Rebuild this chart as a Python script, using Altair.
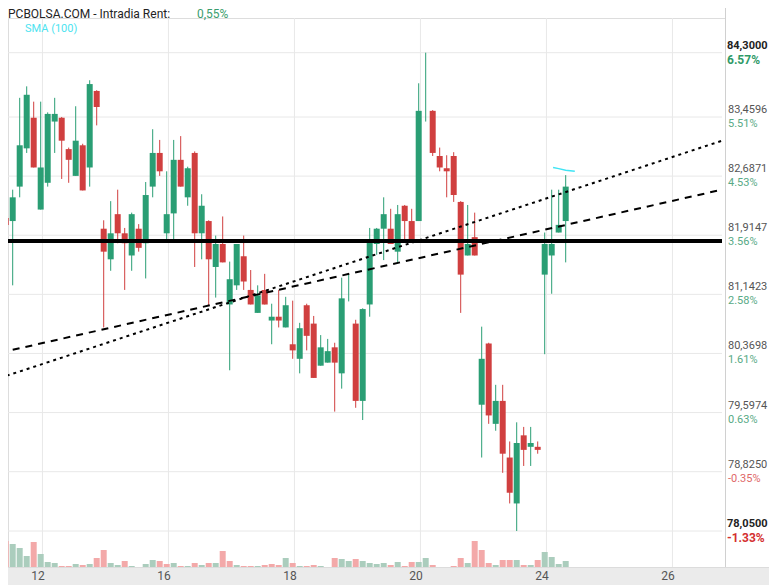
import altair as alt
import pandas as pd

# ---------------- data ----------------
opens = [82.20, 82.14, 82.10, 82.55, 83.05, 83.45, 82.25, 82.60, 83.40, 83.45,
         83.04, 82.69, 83.09, 82.80, 83.80, 82.00, 81.60, 82.19, 81.94, 81.65,
         82.00, 81.81, 82.55, 82.99, 81.94, 82.20, 82.90, 82.41, 82.99, 81.94,
         82.10, 81.50, 81.80, 81.01, 81.26, 81.64, 81.20, 80.90, 81.20, 80.80,
         80.85, 80.71, 80.49, 80.30, 81.00, 80.76, 80.21, 80.25, 80.45, 80.11,
         81.21, 80.76, 79.75, 81.01, 81.80, 82.00, 82.00, 81.70, 82.30, 82.10,
         82.10, 83.52, 83.54, 82.95, 82.79, 82.95, 82.35, 81.65, 81.89, 79.70,
         80.50, 79.45, 79.75, 79.01, 78.41, 79.30, 79.15, 79.15, 81.40, 81.65,
         81.95, 82.10]
closes = [82.35, 82.05, 82.41, 83.09, 83.75, 82.80, 82.80, 83.50, 83.50, 83.15,
          82.90, 83.15, 82.50, 83.89, 83.59, 81.70, 81.94, 81.94, 81.81, 82.19,
          81.75, 82.44, 82.99, 82.75, 82.19, 82.90, 82.55, 82.79, 81.94, 82.30,
          81.60, 81.80, 81.56, 81.34, 81.80, 81.31, 81.01, 81.13, 81.01, 80.85,
          80.80, 81.00, 80.41, 80.70, 80.60, 80.05, 80.45, 80.40, 80.25, 81.09,
          81.21, 79.75, 80.95, 81.82, 82.00, 82.19, 81.80, 82.19, 82.10, 81.86,
          83.54, 83.52, 82.99, 82.80, 82.75, 82.44, 81.40, 81.80, 81.65, 80.30,
          79.56, 79.75, 79.06, 78.55, 79.20, 79.11, 79.20, 79.11, 81.80, 81.80,
          82.05, 82.55]
highs = [82.40, 83.01, 82.51, 83.71, 83.86, 83.66, 83.66, 83.52, 83.71, 83.46,
         83.06, 83.60, 83.11, 83.94, 83.81, 82.11, 82.36, 82.51, 82.01, 82.21,
         82.06, 82.61, 83.30, 83.16, 82.75, 83.16, 83.21, 82.81, 83.01, 82.45,
         82.11, 81.91, 82.16, 81.57, 81.80, 81.91, 81.46, 81.26, 81.41, 81.02,
         81.20, 81.11, 81.06, 80.77, 81.02, 80.86, 80.61, 80.56, 80.51, 81.36,
         81.41, 80.81, 80.96, 82.01, 82.01, 82.41, 82.26, 82.31, 82.31, 82.26,
         83.90, 84.30, 83.55, 83.06, 82.96, 83.00, 82.36, 82.31, 82.21, 80.72,
         80.51, 79.96, 79.96, 79.22, 79.47, 79.41, 79.41, 79.22, 81.95, 82.51,
         82.51, 82.70]
lows = [82.17, 81.70, 81.26, 82.41, 82.99, 82.80, 82.25, 82.55, 82.99, 82.65,
        82.60, 82.69, 82.50, 82.55, 83.35, 80.71, 81.45, 81.81, 81.20, 81.45,
        81.70, 81.35, 82.41, 82.69, 81.85, 81.86, 82.55, 82.30, 81.50, 81.60,
        80.99, 81.10, 81.56, 80.15, 81.20, 81.20, 81.01, 80.90, 81.01, 80.49,
        80.71, 80.71, 80.30, 80.11, 80.41, 80.05, 80.21, 80.25, 79.61, 79.91,
        81.05, 79.66, 79.50, 80.85, 81.66, 81.59, 81.80, 81.56, 81.86, 81.86,
        82.10, 83.40, 82.95, 82.75, 82.41, 82.35, 80.90, 81.65, 81.65, 79.01,
        79.45, 79.36, 78.81, 78.41, 78.05, 78.90, 78.90, 79.06, 80.36, 81.15,
        81.95, 81.56]
volumes = [51, 26, 23, 19, 11, 25, 13, 5, 4, 1,
           1, 3, 2, 3, 9, 17, 4, 2, 6, 1,
           0, 3, 7, 6, 3, 4, 1, 1, 4, 2,
           4, 4, 16, 6, 2, 1, 1, 1, 2, 3,
           2, 9, 4, 1, 1, 2, 1, 0, 9, 8,
           6, 8, 6, 4, 3, 4, 2, 5, 1, 5,
           5, 9, 2, 0, 0, 1, 9, 4, 26, 17,
           4, 2, 7, 7, 7, 2, 2, 7, 15, 10,
           3, 6]
vol_dir = list("dduuuduuud" "dududduudu" "uuuddududu" "dudduddudd" "dududduudu"
               "uduuuududd" "uudddddudd" "duddududuu" "uu")

tick_vals = [84.30, 83.4596, 82.6871, 81.9147, 81.1423, 80.3698, 79.5974, 78.8250, 78.05]
tick_labels = ["84,3000", "83,4596", "82,6871", "81,9147", "81,1423",
               "80,3698", "79,5974", "78,8250", "78,0500"]
pct_labels = ["6.57%", "5.51%", "4.53%", "3.56%", "2.58%", "1.61%", "0.63%", "-0.35%", "-1.33%"]

day_labels = ["12", "16", "18", "20", "24", "26"]
day_start = [6, 24, 42, 60, 78, 96]

trend_k = [0.19, 103.33]
dotted_p = [80.05, 83.15]
dashed_p = [80.38, 82.51]
support_p = [81.84]

sma_k = [79.2, 80.0, 81.0, 82.3]
sma_p = [82.80, 82.785, 82.765, 82.75]

title_txt = "PCBOLSA.COM - Intradia  Rent:"
rent_txt = "0,55%"

# ---------------- style ----------------
W, H = 717, 549
TOTAL_W = 761
UP, DN = "#2a9e74", "#d03f3f"
VUP, VDN = "#abcdbd", "#f3a9a9"
GRID = "#e8e8e8"
FONT = "Roboto"

n = len(opens)
df = pd.DataFrame({"k": list(range(n)), "o": opens, "h": highs, "l": lows,
                   "c": closes, "v": volumes})
df["ccol"] = [UP if c >= o else DN for o, c in zip(opens, closes)]
df["vcol"] = [VUP if d == "u" else VDN for d in vol_dir]

k0 = 9.3 / 7
xsc = alt.Scale(domain=[k0, k0 + W / 7], nice=False, zero=False, padding=0)
ysc = alt.Scale(domain=[77.5796, 84.7532], nice=False, zero=False, padding=0)
X = alt.X("k:Q", scale=xsc, axis=None)


def Y(f):
    return alt.Y(f, type="quantitative", scale=ysc, axis=None)


ticks = pd.DataFrame({"p": tick_vals, "lab": tick_labels, "pct": pct_labels,
                      "i": list(range(len(tick_vals)))})
ticks["bold"] = (ticks["i"] == 0) | (ticks["i"] == len(tick_vals) - 1)
ticks["vcol"] = ["#222222" if b else "#555555" for b in ticks["bold"]]


def pct_color(s, b):
    if s.startswith("-"):
        return "#d42f2f" if b else "#e06868"
    return "#2f9a68" if b else "#58aa86"


ticks["pcol"] = [pct_color(s, b) for s, b in zip(ticks["pct"], ticks["bold"])]

days = pd.DataFrame({"k": [d + 0.25 for d in day_start], "lab": day_labels})

one = pd.DataFrame({"a": [0]})

band = alt.Chart(one).mark_rect(color="#ebebeb").encode(
    x=alt.value(0), x2=alt.value(TOTAL_W), y=alt.value(H), y2=alt.value(H + 18))
band_line = alt.Chart(one).mark_rule(color="#dcdcdc", strokeWidth=1).encode(
    x=alt.value(0), x2=alt.value(TOTAL_W), y=alt.value(H + 0.5))

hgrid = alt.Chart(ticks).mark_rule(color=GRID, strokeWidth=1).encode(
    y=Y("p"), x=alt.value(0), x2=alt.value(714))
vgrid = alt.Chart(days).mark_rule(color=GRID, strokeWidth=1).encode(
    x=X, y=alt.value(0), y2=alt.value(H))
raxis = alt.Chart(one).mark_rule(color="#d0d0d0", strokeWidth=1).encode(
    x=alt.value(717.5), y=alt.value(-10), y2=alt.value(H))

vol = alt.Chart(df).mark_bar(size=6).encode(
    x=X, y=alt.Y("v:Q", scale=alt.Scale(domain=[0, H], nice=False, zero=True, padding=0), axis=None),
    color=alt.Color("vcol:N", scale=None))

wicks = alt.Chart(df).mark_rule(strokeWidth=1).encode(
    x=X, y=Y("l"), y2="h:Q", color=alt.Color("ccol:N", scale=None))
bodies = alt.Chart(df).mark_bar(size=6).encode(
    x=X, y=Y("o"), y2="c:Q", color=alt.Color("ccol:N", scale=None))

dotted = alt.Chart(pd.DataFrame({"k": trend_k, "p": dotted_p})).mark_line(
    color="black", strokeWidth=2, strokeDash=[3, 4]).encode(x=X, y=Y("p"))
dashed = alt.Chart(pd.DataFrame({"k": trend_k, "p": dashed_p})).mark_line(
    color="black", strokeWidth=2, strokeDash=[7, 6]).encode(x=X, y=Y("p"))
support = alt.Chart(pd.DataFrame({"p": support_p})).mark_rule(
    color="black", strokeWidth=4).encode(y=Y("p"), x=alt.value(0), x2=alt.value(714))

sma = alt.Chart(pd.DataFrame({"k": sma_k, "p": sma_p})).mark_line(
    color="#40e4f4", strokeWidth=1.5).encode(x=X, y=Y("p"))

val_norm = alt.Chart(ticks[~ticks["bold"]]).mark_text(
    align="left", baseline="middle", font=FONT, fontSize=11, dy=-7).encode(
    x=alt.value(720), y=Y("p"), text="lab:N", color=alt.Color("vcol:N", scale=None))
val_bold = alt.Chart(ticks[ticks["bold"]]).mark_text(
    align="left", baseline="middle", font=FONT, fontSize=11, fontWeight="bold", dy=-7).encode(
    x=alt.value(719), y=Y("p"), text="lab:N", color=alt.Color("vcol:N", scale=None))
pct_norm = alt.Chart(ticks[~ticks["bold"]]).mark_text(
    align="left", baseline="middle", font=FONT, fontSize=11, dy=7).encode(
    x=alt.value(720), y=Y("p"), text="pct:N", color=alt.Color("pcol:N", scale=None))
pct_bold = alt.Chart(ticks[ticks["bold"]]).mark_text(
    align="left", baseline="middle", font=FONT, fontSize=12, fontWeight="bold", dy=7).encode(
    x=alt.value(719), y=Y("p"), text="pct:N", color=alt.Color("pcol:N", scale=None))

xlabels = alt.Chart(days).mark_text(
    align="center", baseline="middle", font=FONT, fontSize=12, color="#555555", dx=-4.5).encode(
    x=X, y=alt.value(H + 8.5), text="lab:N")

title = alt.Chart(pd.DataFrame({"t": [title_txt]})).mark_text(
    align="left", baseline="alphabetic", font=FONT, fontSize=12, color="#222222").encode(
    x=alt.value(0), y=alt.value(0), text="t:N")
rent = alt.Chart(pd.DataFrame({"t": [rent_txt]})).mark_text(
    align="left", baseline="alphabetic", font=FONT, fontSize=12, color="#3a9d6e").encode(
    x=alt.value(189), y=alt.value(0), text="t:N")
sma_lab = alt.Chart(pd.DataFrame({"t": ["SMA (100)"]})).mark_text(
    align="left", baseline="middle", font=FONT, fontSize=11, color="#4de3f0").encode(
    x=alt.value(17), y=alt.value(11), text="t:N")

chart = alt.layer(
    band, band_line, hgrid, vgrid, raxis, vol, wicks, bodies,
    dotted, dashed, support, sma,
    val_norm, val_bold, pct_norm, pct_bold, xlabels, title, rent, sma_lab
).resolve_scale(y="independent").properties(
    width=W, height=H,
    autosize=alt.AutoSizeParams(type="none"),
    padding={"left": 0, "top": 10, "right": TOTAL_W - W, "bottom": 18},
).configure_view(strokeWidth=0).configure(background="white")

chart.save("out.html", embed_options={"renderer": "svg", "actions": False})
